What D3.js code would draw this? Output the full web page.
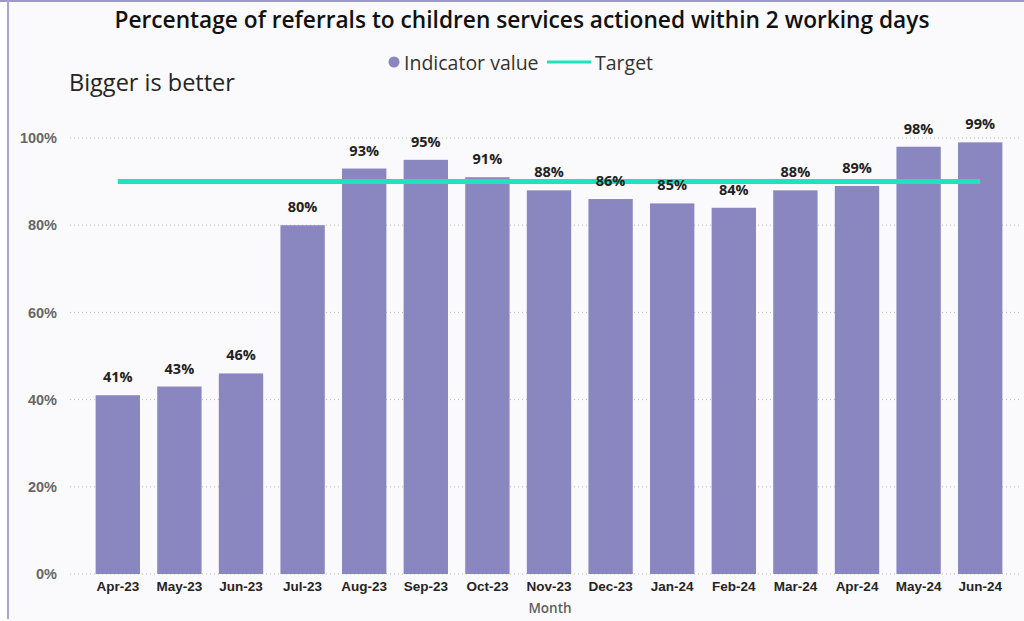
<!DOCTYPE html>
<html>
<head>
<meta charset="utf-8">
<script src="https://cdn.jsdelivr.net/npm/d3@7"></script>
<style>
  html, body { margin: 0; padding: 0; background: #ffffff; }
  svg { display: block; font-family: "Open Sans", "Noto Sans", sans-serif; }
</style>
</head>
<body>
<svg id="chart" width="1024" height="621"></svg>
<script>
// Monthly values for the indicator and the fixed target
const months = ["Apr-23","May-23","Jun-23","Jul-23","Aug-23","Sep-23","Oct-23","Nov-23","Dec-23","Jan-24","Feb-24","Mar-24","Apr-24","May-24","Jun-24"];
const indicatorValues = [41, 43, 46, 80, 93, 95, 91, 88, 86, 85, 84, 88, 89, 98, 99];
const targetValue = 90;
const yTicks = [0, 20, 40, 60, 80, 100];

const barColor = "#8a86c0";
const targetColor = "#1fe3be";

const svg = d3.select("#chart");

// Card background and frame
svg.append("rect").attr("x", 8).attr("y", 0).attr("width", 1016).attr("height", 621).attr("fill", "#fafafc");
svg.append("rect").attr("x", 0).attr("y", 0).attr("width", 1024).attr("height", 2).attr("fill", "#9d97d0");
svg.append("rect").attr("x", 7).attr("y", 0).attr("width", 2).attr("height", 619).attr("fill", "#a9a3d8");

const x = d3.scaleBand().domain(months).range([87, 1011]).paddingInner(0.28).paddingOuter(0.14);
const y = d3.scaleLinear().domain([0, 100]).range([574, 138]);

// Gridlines
svg.append("g")
  .selectAll("line")
  .data(yTicks)
  .join("line")
  .attr("x1", 70).attr("x2", 1022)
  .attr("y1", d => y(d)).attr("y2", d => y(d))
  .attr("stroke", "#b9b9bf")
  .attr("stroke-width", 1)
  .attr("stroke-dasharray", "1,3");

// Y axis labels
const yAxis = d3.axisLeft(y).tickValues(yTicks).tickFormat(d => d + "%").tickSize(0).tickPadding(0);
const yg = svg.append("g").attr("transform", "translate(57,0)").call(yAxis);
yg.select(".domain").remove();
yg.selectAll("text")
  .attr("fill", "#666666")
  .style("font-size", "14.5px")
  .style("font-weight", "600");

// Bars
svg.append("g")
  .selectAll("rect")
  .data(months)
  .join("rect")
  .attr("x", d => x(d))
  .attr("width", x.bandwidth())
  .attr("y", (d, i) => y(indicatorValues[i]))
  .attr("height", (d, i) => y(0) - y(indicatorValues[i]))
  .attr("fill", barColor);

// Target line across the band centres
const line = d3.line().x(d => x(d) + x.bandwidth() / 2).y(() => y(targetValue));
svg.append("path")
  .datum([months[0], months[months.length - 1]])
  .attr("d", line)
  .attr("stroke", targetColor)
  .attr("stroke-width", 5)
  .attr("fill", "none");

// Data labels
svg.append("g")
  .selectAll("text")
  .data(months)
  .join("text")
  .attr("x", d => x(d) + x.bandwidth() / 2)
  .attr("y", (d, i) => y(indicatorValues[i]) - 13)
  .attr("text-anchor", "middle")
  .attr("fill", "#222222")
  .style("font-size", "14.5px")
  .style("font-weight", "700")
  .text((d, i) => indicatorValues[i] + "%");

// X axis labels
const xAxis = d3.axisBottom(x).tickSize(0).tickPadding(0);
const xg = svg.append("g").attr("transform", "translate(0,580)").call(xAxis);
xg.select(".domain").remove();
xg.selectAll("text")
  .attr("fill", "#252423")
  .attr("dy", "0.85em")
  .style("font-size", "13.5px")
  .style("font-weight", "700");

svg.append("text")
  .attr("x", 550).attr("y", 613)
  .attr("text-anchor", "middle")
  .attr("fill", "#605e5c")
  .style("font-size", "13.5px")
  .style("font-weight", "600")
  .text("Month");

// Title and subtitle
svg.append("text")
  .attr("x", 522).attr("y", 28)
  .attr("text-anchor", "middle")
  .attr("fill", "#111111")
  .style("font-size", "22.7px")
  .style("font-weight", "600")
  .text("Percentage of referrals to children services actioned within 2 working days");

svg.append("text")
  .attr("x", 69).attr("y", 91)
  .attr("fill", "#252423")
  .style("font-size", "23.5px")
  .text("Bigger is better");

// Legend
const lg = svg.append("g");
lg.append("circle").attr("cx", 394).attr("cy", 62).attr("r", 5.5).attr("fill", barColor);
lg.append("text").attr("x", 404).attr("y", 69.5).attr("fill", "#333333").style("font-size", "19.5px").text("Indicator value");
lg.append("line").attr("x1", 547).attr("x2", 591).attr("y1", 62).attr("y2", 62).attr("stroke", targetColor).attr("stroke-width", 3);
lg.append("text").attr("x", 595).attr("y", 69.5).attr("fill", "#333333").style("font-size", "19.5px").text("Target");
</script>
</body>
</html>
